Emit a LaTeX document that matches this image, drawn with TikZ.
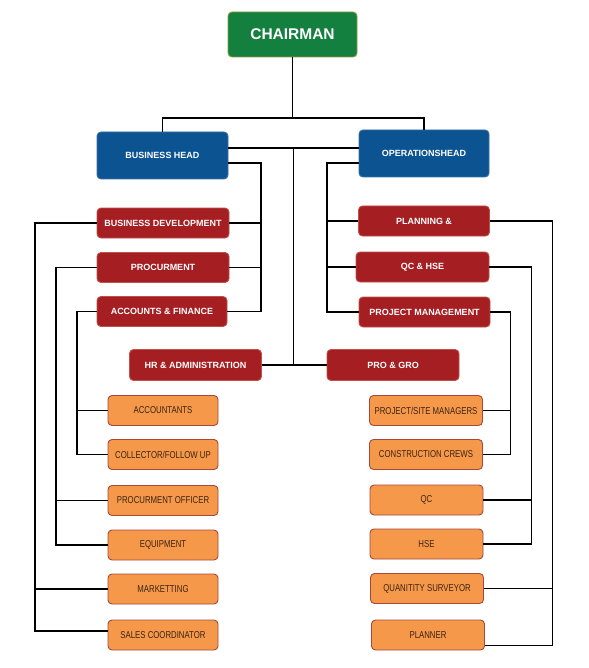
\documentclass[tikz,border=0pt]{standalone}
\usepackage{fontspec}
\setmainfont{Liberation Sans}
\newfontfamily\condfont[FakeStretch=0.78]{Liberation Sans}
\definecolor{chGreen}{HTML}{13803F}
\definecolor{chGreenB}{HTML}{8A9A3A}
\definecolor{bhBlue}{HTML}{0C5391}
\definecolor{bhBlueB}{HTML}{3A6EA5}
\definecolor{dRed}{HTML}{A51E22}
\definecolor{dRedB}{HTML}{C0504A}
\definecolor{orng}{HTML}{F5984A}
\definecolor{orngB}{HTML}{A8483A}
\definecolor{orngT}{HTML}{3B2314}
\begin{document}
\begin{tikzpicture}[x=1pt,y=-1pt,
  box/.style={rounded corners=4pt, draw, line width=0.9pt, align=center, inner sep=0pt},
  greenbox/.style={box, fill=chGreen, draw=chGreenB, text=white, minimum width=129pt, minimum height=45pt, font=\bfseries\fontsize{15.5}{18}\selectfont},
  bluebox/.style={box, fill=bhBlue, draw=bhBlueB, text=white, minimum width=131pt, minimum height=47pt, font=\bfseries\fontsize{9}{11}\selectfont},
  redbox/.style={box, fill=dRed, draw=dRedB, text=white, minimum width=132pt, minimum height=30pt, font=\bfseries\fontsize{9}{11}\selectfont},
  orbox/.style={box, fill=orng, draw=orngB, text=orngT, minimum width=110pt, minimum height=30pt, font=\condfont\fontsize{10}{12}\selectfont},
  conn/.style={line width=1.3pt, black}]
\useasboundingbox (0,0) rectangle (588,668);

% top levels
\node[greenbox] (ch) at (292.5,34.5) {CHAIRMAN};
\node[bluebox] (bh) at (162.5,155.5) {BUSINESS HEAD};
\node[bluebox, minimum width=130pt] (oh) at (424,153.5) {OPERATIONSHEAD};

% red boxes
\node[redbox] (bd) at (163,223) {BUSINESS DEVELOPMENT};
\node[redbox] (pr) at (163,267.5) {PROCURMENT};
\node[redbox, minimum width=130pt] (af) at (162,311.5) {ACCOUNTS \& FINANCE};
\node[redbox, minimum width=131pt] (pl) at (424,221) {PLANNING \&};
\node[redbox, minimum width=133pt] (qh) at (422.5,267) {QC \& HSE};
\node[redbox, minimum width=131pt] (pm) at (424.5,312) {PROJECT MANAGEMENT};
\node[redbox, minimum height=31pt] (hr) at (195.5,365) {HR \& ADMINISTRATION};
\node[redbox, minimum height=31pt] (pg) at (393,365) {PRO \& GRO};

% orange left
\node[orbox] (acc) at (163,410.5) {ACCOUNTANTS};
\node[orbox] (col) at (163,454.5) {COLLECTOR/FOLLOW UP};
\node[orbox] (po) at (163,500.5) {PROCURMENT OFFICER};
\node[orbox] (eq) at (163,545) {EQUIPMENT};
\node[orbox] (mk) at (163,589) {MARKETTING};
\node[orbox] (sc) at (163,635) {SALES COORDINATOR};

% orange right
\node[orbox, minimum width=113pt] (psm) at (426,410.5) {PROJECT/SITE MANAGERS};
\node[orbox, minimum width=113pt] (cc) at (426,454.5) {CONSTRUCTION CREWS};
\node[orbox, minimum width=113pt] (qc) at (426.5,500) {QC};
\node[orbox, minimum width=113pt] (hse) at (426.5,544) {HSE};
\node[orbox, minimum width=113pt] (qs) at (427,588.5) {QUANITITY SURVEYOR};
\node[orbox, minimum width=113pt] (pln) at (428,635) {PLANNER};

% junction coordinates
\coordinate (j1) at (292.5,118);
\coordinate (j2) at (293.5,148);
\coordinate (bx) at (261,163);
\coordinate (ox) at (327,163);
\coordinate (L1) at (35,0);
\coordinate (L2) at (56,0);
\coordinate (L3) at (77,0);
\coordinate (R1) at (552.5,0);
\coordinate (R2) at (531.5,0);
\coordinate (R3) at (510.5,0);
\coordinate (sc4) at ([yshift=4pt]sc.west);
\coordinate (pln10) at ([yshift=-10.5pt]pln.east);

% chairman to heads
\draw[conn] (ch.south) -- (j1);
\draw[conn] (bh.north) |- (j1) -| (oh.north);

% central trunk
\draw[conn] (bh.east |- j2) -- (oh.west |- j2);
\draw[conn] (j2) -- (j2 |- hr.east);
\draw[conn] (hr.east) -- (pg.west);

% business head bus
\draw[conn] (bh.east |- bx) -- (bx) -- (bx |- af.east) -- (af.east);
\draw[conn] (bd.east) -- (bx |- bd.east);
\draw[conn] (pr.east) -- (bx |- pr.east);

% operations head bus
\draw[conn] (oh.west |- ox) -- (ox) -- (ox |- pm.west) -- (pm.west);
\draw[conn] (pl.west) -- (ox |- pl.west);
\draw[conn] (qh.west) -- (ox |- qh.west);

% left outer buses
\draw[conn] (bd.west) -- (L1 |- bd.west) -- (L1 |- sc4) -- (sc4);
\draw[conn] (mk.west) -- (L1 |- mk.west);
\draw[conn] (pr.west) -- (L2 |- pr.west) -- (L2 |- eq.west) -- (eq.west);
\draw[conn] (po.west) -- (L2 |- po.west);
\draw[conn] (af.west) -- (L3 |- af.west) -- (L3 |- col.west) -- (col.west);
\draw[conn] (acc.west) -- (L3 |- acc.west);

% right outer buses
\draw[conn] (pl.east) -- (R1 |- pl.east) -- (R1 |- pln10) -- (pln10);
\draw[conn] (qs.east) -- (R1 |- qs.east);
\draw[conn] (qh.east) -- (R2 |- qh.east) -- (R2 |- hse.east) -- (hse.east);
\draw[conn] (qc.east) -- (R2 |- qc.east);
\draw[conn] (pm.east) -- (R3 |- pm.east) -- (R3 |- cc.east) -- (cc.east);
\draw[conn] (psm.east) -- (R3 |- psm.east);
\end{tikzpicture}
\end{document}
